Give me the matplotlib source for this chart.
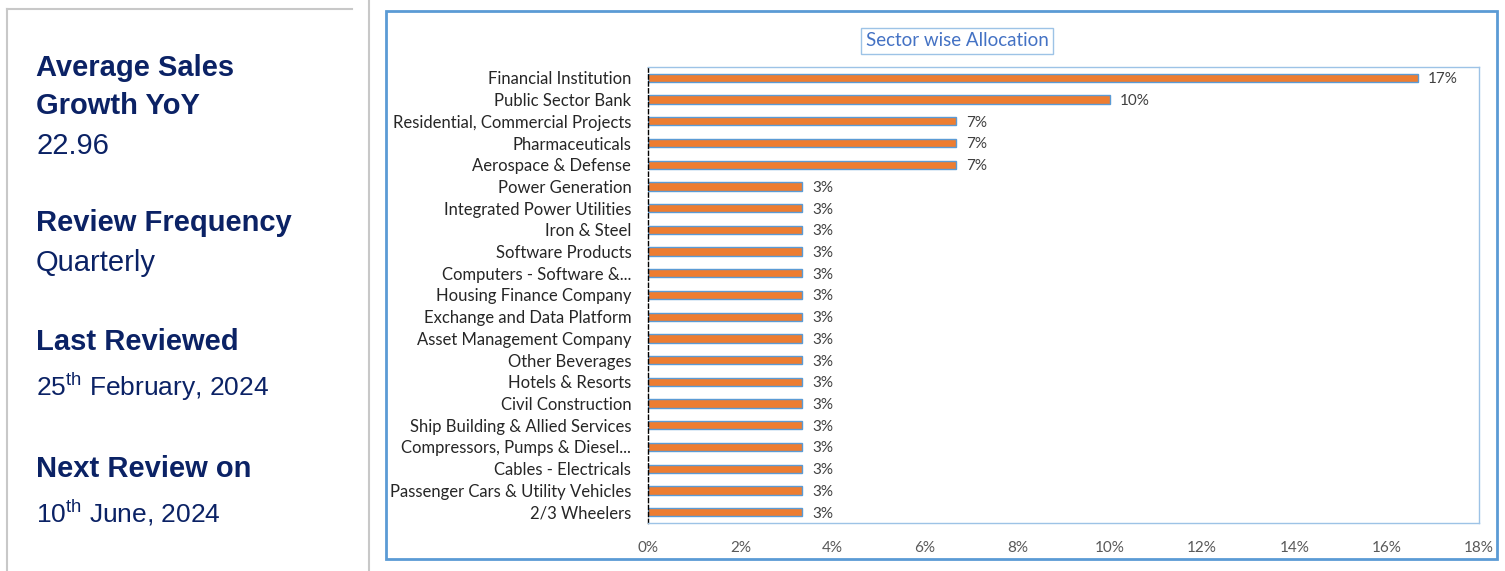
import matplotlib.pyplot as plt
from matplotlib.patches import Rectangle
from matplotlib.lines import Line2D
from matplotlib.ticker import FuncFormatter

sectors = [
    "Financial Institution", "Public Sector Bank", "Residential, Commercial Projects",
    "Pharmaceuticals", "Aerospace & Defense", "Power Generation",
    "Integrated Power Utilities", "Iron & Steel", "Software Products",
    "Computers - Software &...", "Housing Finance Company", "Exchange and Data Platform",
    "Asset Management Company", "Other Beverages", "Hotels & Resorts",
    "Civil Construction", "Ship Building & Allied Services", "Compressors, Pumps & Diesel...",
    "Cables - Electricals", "Passenger Cars & Utility Vehicles", "2/3 Wheelers",
]
weights = [16.67, 10.0, 6.67, 6.67, 6.67] + [3.33] * 16
x_ticks = [0, 2, 4, 6, 8, 10, 12, 14, 16, 18]

info_heads = ["Average Sales\nGrowth YoY", "Review Frequency", "Last Reviewed", "Next Review on"]
info_values = ["22.96", "Quarterly", "25$^{\\mathrm{th}}$ February, 2024", "10$^{\\mathrm{th}}$ June, 2024"]

plt.rcParams['mathtext.fontset'] = 'custom'
plt.rcParams['mathtext.rm'] = 'Liberation Sans'

W, H = 1505, 571
fig = plt.figure(figsize=(W / 100, H / 100), dpi=100)

def fx(px):
    return px / W

def fy(py):
    return 1 - py / H

navy = "#0B2265"
gray = "#C8C8C8"
blue = "#5B9BD5"

# left panel borders
fig.add_artist(Line2D([fx(7), fx(7)], [fy(9), fy(571)], color=gray, lw=1.5))
fig.add_artist(Line2D([fx(7), fx(352)], [fy(9), fy(9)], color=gray, lw=1.5))
fig.add_artist(Line2D([fx(369), fx(369)], [fy(0), fy(571)], color=gray, lw=1.5))

# left panel text
head_y = [68, 223, 342, 469]
val_y = [143, 260, 383, 510]
val_size = [21, 21, 19, 19]
fig.text(fx(36), fy(head_y[0]), "Average Sales", fontsize=21, fontweight="bold", color=navy,
         family="Liberation Sans", va="center")
fig.text(fx(36), fy(head_y[0] + 38), "Growth YoY", fontsize=21, fontweight="bold", color=navy,
         family="Liberation Sans", va="center")
for head, hy in zip(info_heads[1:], head_y[1:]):
    fig.text(fx(36), fy(hy), head, fontsize=21, fontweight="bold", color=navy,
             family="Liberation Sans", va="center")
for val, vy, vs in zip(info_values, val_y, val_size):
    fig.text(fx(36), fy(vy), val, fontsize=vs, color=navy, family="Liberation Sans",
             va="center_baseline")

# chart outer box
fig.add_artist(Rectangle((fx(386), fy(559)), fx(1497 - 386), (559 - 11) / H,
                         fill=False, edgecolor=blue, lw=2))

ax = fig.add_axes([fx(648), fy(523), fx(1479 - 648), (523 - 67) / H])
y = list(range(len(sectors)))
ax.barh(y, weights, height=0.38, color="#ED7D31", edgecolor=blue, linewidth=1)
ax.set_ylim(len(sectors) - 0.5, -0.5)
ax.set_xlim(0, 18)
ax.set_yticks(y)
ax.set_yticklabels(sectors, family="Lato", fontsize=12, color="#262626")
ax.set_xticks(x_ticks)
ax.xaxis.set_major_formatter(FuncFormatter(lambda v, p: f"{v:.0f}%"))
ax.tick_params(axis="x", length=0, pad=13, labelsize=11, labelcolor="#595959")
ax.tick_params(axis="y", length=0, pad=12)
for lab in ax.get_xticklabels():
    lab.set_family("Lato")
for s in ax.spines.values():
    s.set_color("#9DC3E6")
    s.set_linewidth(1)
ax.spines["left"].set_color("black")
ax.spines["left"].set_linestyle((0, (3, 2)))

for yi, w in zip(y, weights):
    ax.text(w + 0.22, yi, f"{w:.0f}%", va="center_baseline", ha="left", family="Lato",
            fontsize=11, color="#404040")

fig.text(fx(957), fy(41), "Sector wise Allocation", ha="center", va="center",
         family="Lato", fontsize=13.5, color="#4472C4",
         bbox=dict(boxstyle="square,pad=0.25", fc="white", ec="#9DC3E6", lw=1))

fig.savefig("out.png", dpi=100)
